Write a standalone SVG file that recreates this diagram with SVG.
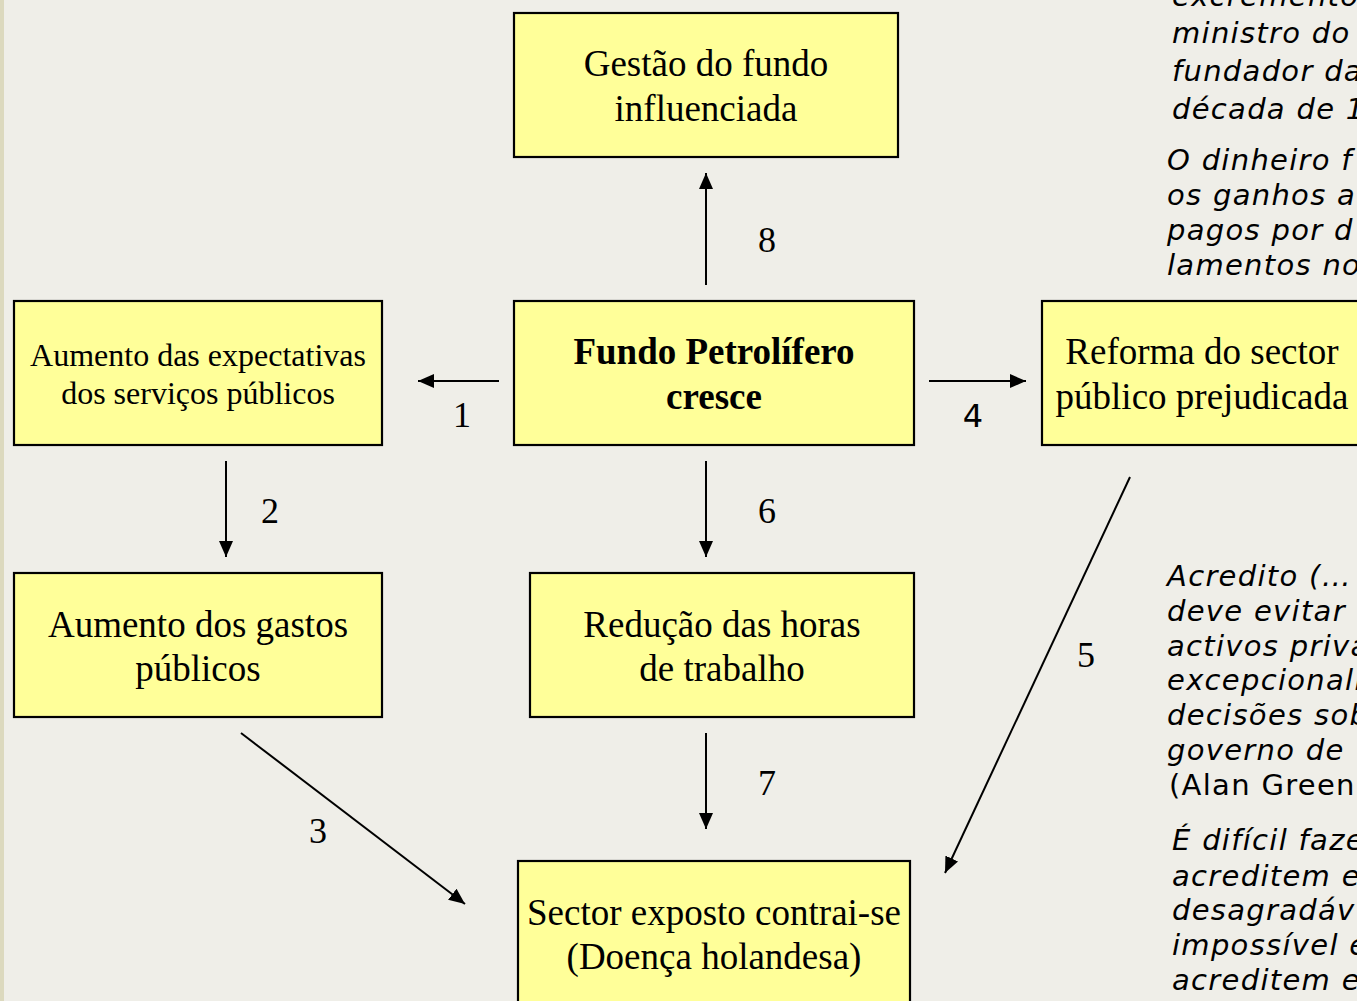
<svg xmlns="http://www.w3.org/2000/svg" width="1357" height="1001" viewBox="0 0 1357 1001">
<defs>
<marker id="ah" viewBox="0 0 16 14" refX="16" refY="7" markerWidth="16" markerHeight="14" markerUnits="userSpaceOnUse" orient="auto">
<path d="M0,0 L16,7 L0,14 Z" fill="#000"/>
</marker>
<style>
.box{fill:#FFFF99;stroke:#000;stroke-width:2.2}
.t{font-family:"Liberation Serif","Times New Roman",serif;font-size:37px;fill:#000;text-anchor:middle}
.ts{font-family:"Liberation Serif","Times New Roman",serif;font-size:32px;fill:#000;text-anchor:middle}
.tb{font-weight:bold}
.n{font-family:"Liberation Serif","Times New Roman",serif;font-size:36px;fill:#000;text-anchor:middle}
.ns{font-family:"DejaVu Sans",Verdana,sans-serif;font-size:32px;fill:#000;text-anchor:middle}
.c{stroke:#000;stroke-width:2;fill:none;marker-end:url(#ah)}
.q{font-family:"DejaVu Sans",Verdana,sans-serif;font-size:29px;font-style:italic;fill:#000;letter-spacing:1.3px}
.qr{font-style:normal}
</style>
</defs>
<rect x="0" y="0" width="1357" height="1001" fill="#EFEEE8"/>
<rect x="0" y="0" width="4" height="1001" fill="#DCD9BE"/>

<g id="quotes">
<text class="q" x="1172" y="6">excremento</text>
<text class="q" x="1172" y="43">ministro do</text>
<text class="q" x="1172" y="81">fundador da</text>
<text class="q" x="1172" y="119">década de 1</text>
<text class="q" x="1167" y="170">O dinheiro f</text>
<text class="q" x="1167" y="205">os ganhos a</text>
<text class="q" x="1167" y="240">pagos por d</text>
<text class="q" x="1167" y="275">lamentos no</text>
<text class="q" x="1167" y="586">Acredito (…</text>
<text class="q" x="1167" y="621">deve evitar</text>
<text class="q" x="1167" y="656">activos priva</text>
<text class="q" x="1167" y="690">excepcionali</text>
<text class="q" x="1167" y="725">decisões sob</text>
<text class="q" x="1167" y="760">governo de</text>
<text class="q qr" x="1169" y="795">(Alan Green</text>
<text class="q" x="1172" y="850">É difícil faze</text>
<text class="q" x="1172" y="886">acreditem e</text>
<text class="q" x="1172" y="920">desagradáv</text>
<text class="q" x="1172" y="955">impossível e</text>
<text class="q" x="1172" y="990">acreditem e</text>
</g>

<g id="connectors">
<line class="c" x1="706" y1="285" x2="706" y2="173"/>
<line class="c" x1="499" y1="381" x2="418" y2="381"/>
<line class="c" x1="929" y1="381" x2="1026" y2="381"/>
<line class="c" x1="226" y1="461" x2="226" y2="557"/>
<line class="c" x1="706" y1="461" x2="706" y2="557"/>
<line class="c" x1="706" y1="733" x2="706" y2="829"/>
<line class="c" x1="241" y1="733" x2="465" y2="904"/>
<line class="c" x1="1130" y1="477" x2="945" y2="873"/>
<text class="n" x="767" y="252">8</text>
<text class="n" x="462" y="427">1</text>
<text class="ns" x="973" y="427">4</text>
<text class="n" x="270" y="523">2</text>
<text class="n" x="767" y="523">6</text>
<text class="n" x="767" y="795">7</text>
<text class="n" x="318" y="843">3</text>
<text class="n" x="1086" y="667">5</text>
</g>

<g id="gestao">
<rect class="box" x="514" y="13" width="384" height="144"/>
<text class="t" x="706" y="76">Gestão do fundo</text>
<text class="t" x="706" y="121">influenciada</text>
</g>
<g id="fundo">
<rect class="box" x="514" y="301" width="400" height="144"/>
<text class="t tb" x="714" y="364">Fundo Petrolífero</text>
<text class="t tb" x="714" y="409">cresce</text>
</g>
<g id="expectativas">
<rect class="box" x="14" y="301" width="368" height="144"/>
<text class="ts" x="198" y="366">Aumento das expectativas</text>
<text class="ts" x="198" y="404">dos serviços públicos</text>
</g>
<g id="reforma">
<rect class="box" x="1042" y="301" width="330" height="144"/>
<text class="t" x="1202" y="364">Reforma do sector</text>
<text class="t" x="1202" y="409">público prejudicada</text>
</g>
<g id="gastos">
<rect class="box" x="14" y="573" width="368" height="144"/>
<text class="t" x="198" y="637">Aumento dos gastos</text>
<text class="t" x="198" y="681">públicos</text>
</g>
<g id="reducao">
<rect class="box" x="530" y="573" width="384" height="144"/>
<text class="t" x="722" y="637">Redução das horas</text>
<text class="t" x="722" y="681">de trabalho</text>
</g>
<g id="sector">
<rect class="box" x="518" y="861" width="392" height="150"/>
<text class="t" x="714" y="925">Sector exposto contrai-se</text>
<text class="t" x="714" y="969">(Doença holandesa)</text>
</g>
</svg>
